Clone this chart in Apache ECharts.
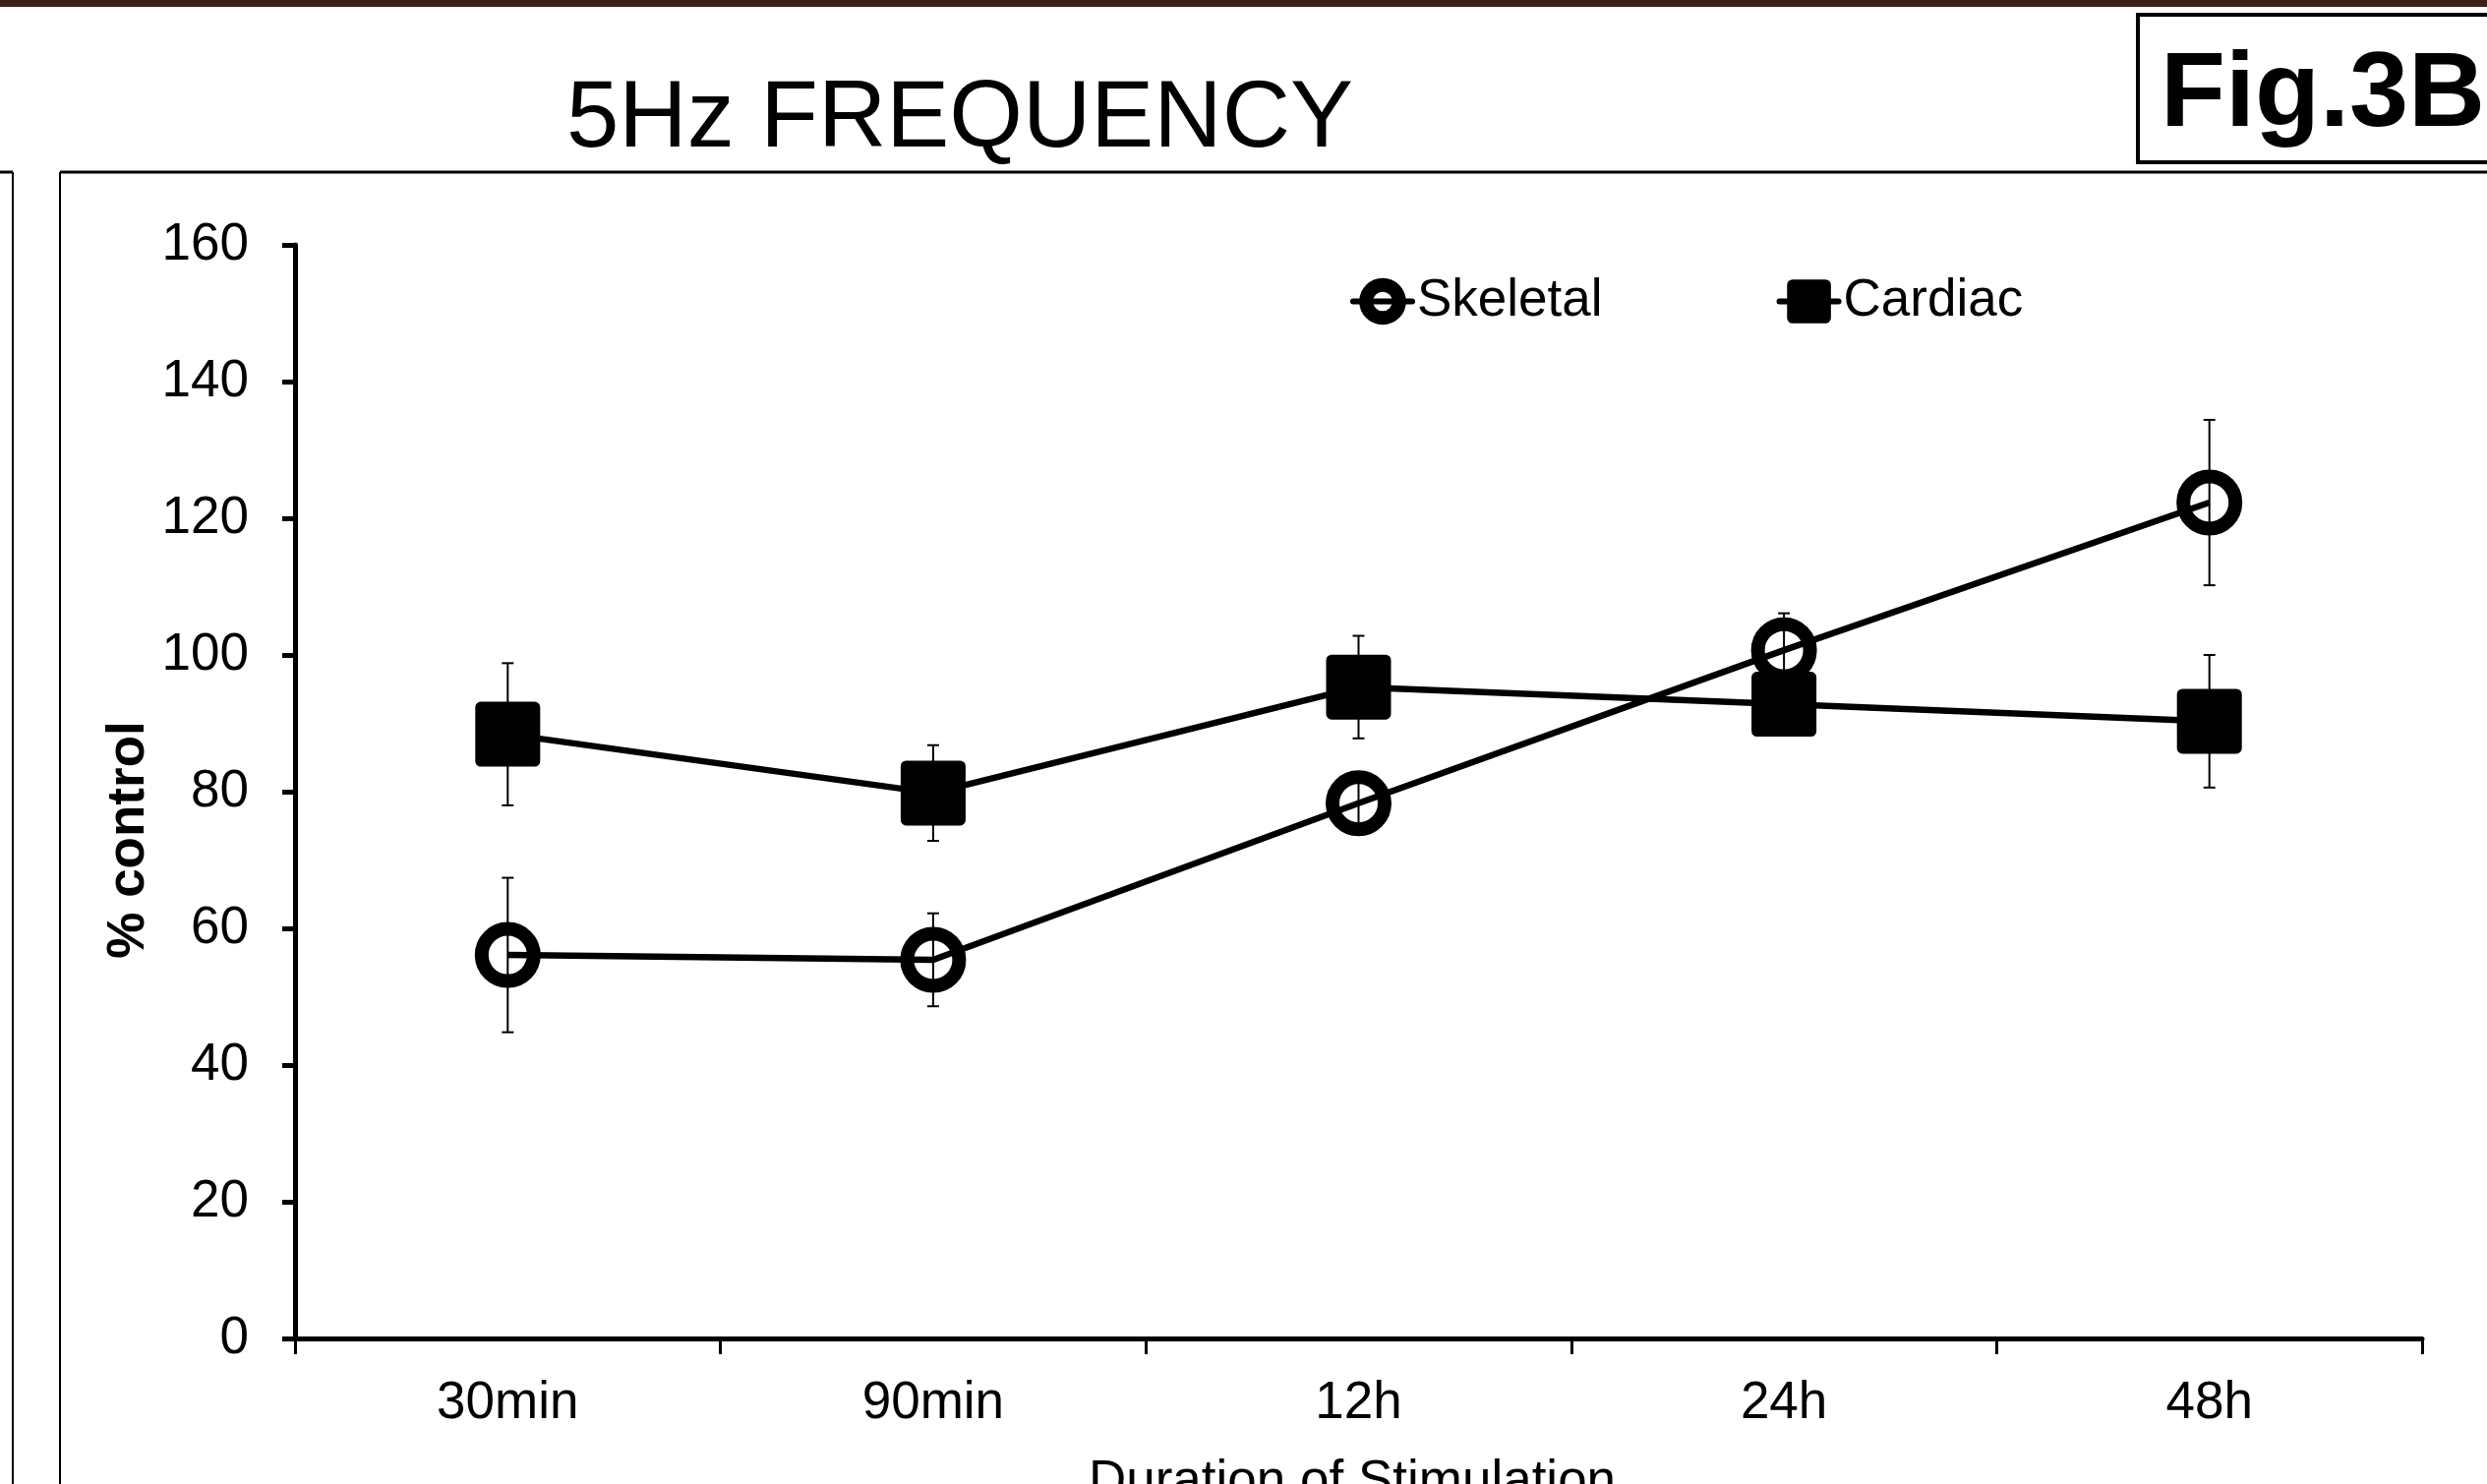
<!DOCTYPE html>
<html>
<head>
<meta charset="utf-8">
<script src="https://cdn.jsdelivr.net/npm/echarts@6/dist/echarts.min.js"></script>
<style>
html,body{margin:0;padding:0;background:#fff;}
#chart{width:2529px;height:1509px;}
</style>
</head>
<body>
<div id="chart"></div>
<script>
const categories = ['30min', '90min', '12h', '24h', '48h'];
const yTicks = [0, 20, 40, 60, 80, 100, 120, 140, 160];
const skeletal = [56.1, 55.4, 78.3, 100.7, 122.3];
const skeletalErr = [11.3, 6.8, 4.0, 5.4, 12.1];
const cardiac = [88.4, 79.8, 95.3, 92.8, 90.3];
const cardiacErr = [10.4, 7.0, 7.5, 4.0, 9.7];

const FONT = "'Liberation Sans', Arial, sans-serif";

function errData(vals, errs) {
  return vals.map((v, i) => [i, v - errs[i], v + errs[i]]);
}

function renderErr(params, api) {
  const i = api.value(0);
  const lo = api.coord([i, api.value(1)]);
  const hi = api.coord([i, api.value(2)]);
  const cap = 6;
  const st = { stroke: '#000', lineWidth: 2 };
  return {
    type: 'group',
    children: [
      { type: 'line', shape: { x1: lo[0], y1: lo[1], x2: hi[0], y2: hi[1] }, style: st },
      { type: 'line', shape: { x1: lo[0] - cap, y1: lo[1], x2: lo[0] + cap, y2: lo[1] }, style: st },
      { type: 'line', shape: { x1: hi[0] - cap, y1: hi[1], x2: hi[0] + cap, y2: hi[1] }, style: st }
    ]
  };
}

const chart = echarts.init(document.getElementById('chart'), null, { renderer: 'canvas' });
chart.setOption({
  animation: false,
  backgroundColor: '#fff',
  textStyle: { fontFamily: FONT },
  grid: { left: 300, right: 66, top: 249, bottom: 148, containLabel: false },
  legend: {
    left: 1368,
    top: 275,
    itemWidth: 60,
    itemHeight: 42,
    itemGap: 177,
    itemTextGap: 4,
    lineStyle: { width: 6, cap: 'round' },
    data: [
      { name: 'Skeletal', itemStyle: { borderWidth: 14, borderColor: '#000' } },
      { name: 'Cardiac', itemStyle: { borderWidth: 11, borderColor: '#000', borderJoin: 'round' } }
    ],
    textStyle: { fontFamily: FONT, fontSize: 53, color: '#000' }
  },
  xAxis: {
    type: 'category',
    data: categories,
    boundaryGap: true,
    axisLine: { lineStyle: { color: '#000', width: 5 } },
    axisTick: { show: true, alignWithLabel: false, length: 16, lineStyle: { color: '#000', width: 3 } },
    axisLabel: { fontFamily: FONT, fontSize: 53, color: '#000', margin: 40 },
    splitLine: { show: false }
  },
  yAxis: {
    type: 'value',
    min: 0,
    max: 160,
    interval: 20,
    axisLine: { show: true, lineStyle: { color: '#000', width: 5 } },
    axisTick: { show: true, inside: false, length: 13, lineStyle: { color: '#000', width: 5 } },
    axisLabel: {
      fontFamily: FONT, fontSize: 53, color: '#000', margin: 47,
      formatter: v => (yTicks.indexOf(v) >= 0 ? String(v) : '')
    },
    splitLine: { show: false }
  },
  series: [
    {
      name: 'Skeletal',
      type: 'line',
      data: skeletal,
      symbol: 'circle',
      symbolSize: 53,
      showAllSymbol: true,
      lineStyle: { color: '#000', width: 6.5 },
      itemStyle: { color: 'rgba(255,255,255,0)', borderColor: '#000', borderWidth: 14 },
      z: 2
    },
    {
      name: 'Cardiac',
      type: 'line',
      data: cardiac,
      symbol: 'rect',
      symbolSize: 55,
      showAllSymbol: true,
      lineStyle: { color: '#000', width: 6.5 },
      itemStyle: { color: '#000', borderColor: '#000', borderWidth: 11, borderJoin: 'round' },
      z: 3
    },
    {
      name: 'SkeletalErr',
      type: 'custom',
      data: errData(skeletal, skeletalErr),
      renderItem: renderErr,
      z: 4,
      silent: true
    },
    {
      name: 'CardiacErr',
      type: 'custom',
      data: errData(cardiac, cardiacErr),
      renderItem: renderErr,
      z: 1,
      silent: true
    }
  ],
  graphic: [
    { type: 'rect', shape: { x: 0, y: 0, width: 2529, height: 7 }, style: { fill: '#3e2019' }, silent: true },
    { type: 'text', x: 976, y: 123, style: { text: '5Hz FREQUENCY', font: "96px " + FONT, fill: '#000', textAlign: 'center', textVerticalAlign: 'middle' } },
    { type: 'rect', shape: { x: 2174, y: 15, width: 420, height: 150 }, style: { fill: 'none', stroke: '#000', lineWidth: 4 } },
    { type: 'text', x: 2197, y: 98, style: { text: 'Fig.3B', font: "bold 108px " + FONT, fill: '#000', textAlign: 'left', textVerticalAlign: 'middle' } },
    { type: 'line', shape: { x1: 61, y1: 175, x2: 2529, y2: 175 }, style: { stroke: '#000', lineWidth: 3 } },
    { type: 'line', shape: { x1: 61, y1: 175, x2: 61, y2: 1509 }, style: { stroke: '#000', lineWidth: 2 } },
    { type: 'line', shape: { x1: 0, y1: 175, x2: 13, y2: 175 }, style: { stroke: '#000', lineWidth: 3 } },
    { type: 'line', shape: { x1: 13, y1: 175, x2: 13, y2: 1509 }, style: { stroke: '#000', lineWidth: 2 } },
    { type: 'text', x: 131, y: 854, rotation: Math.PI / 2, style: { text: '% control', font: "bold 53px " + FONT, fill: '#000', textAlign: 'center', textVerticalAlign: 'middle' } },
    { type: 'text', x: 1375, y: 1507, style: { text: 'Duration of Stimulation', font: "53px " + FONT, fill: '#000', textAlign: 'center', textVerticalAlign: 'middle' } }
  ]
});
</script>
</body>
</html>
